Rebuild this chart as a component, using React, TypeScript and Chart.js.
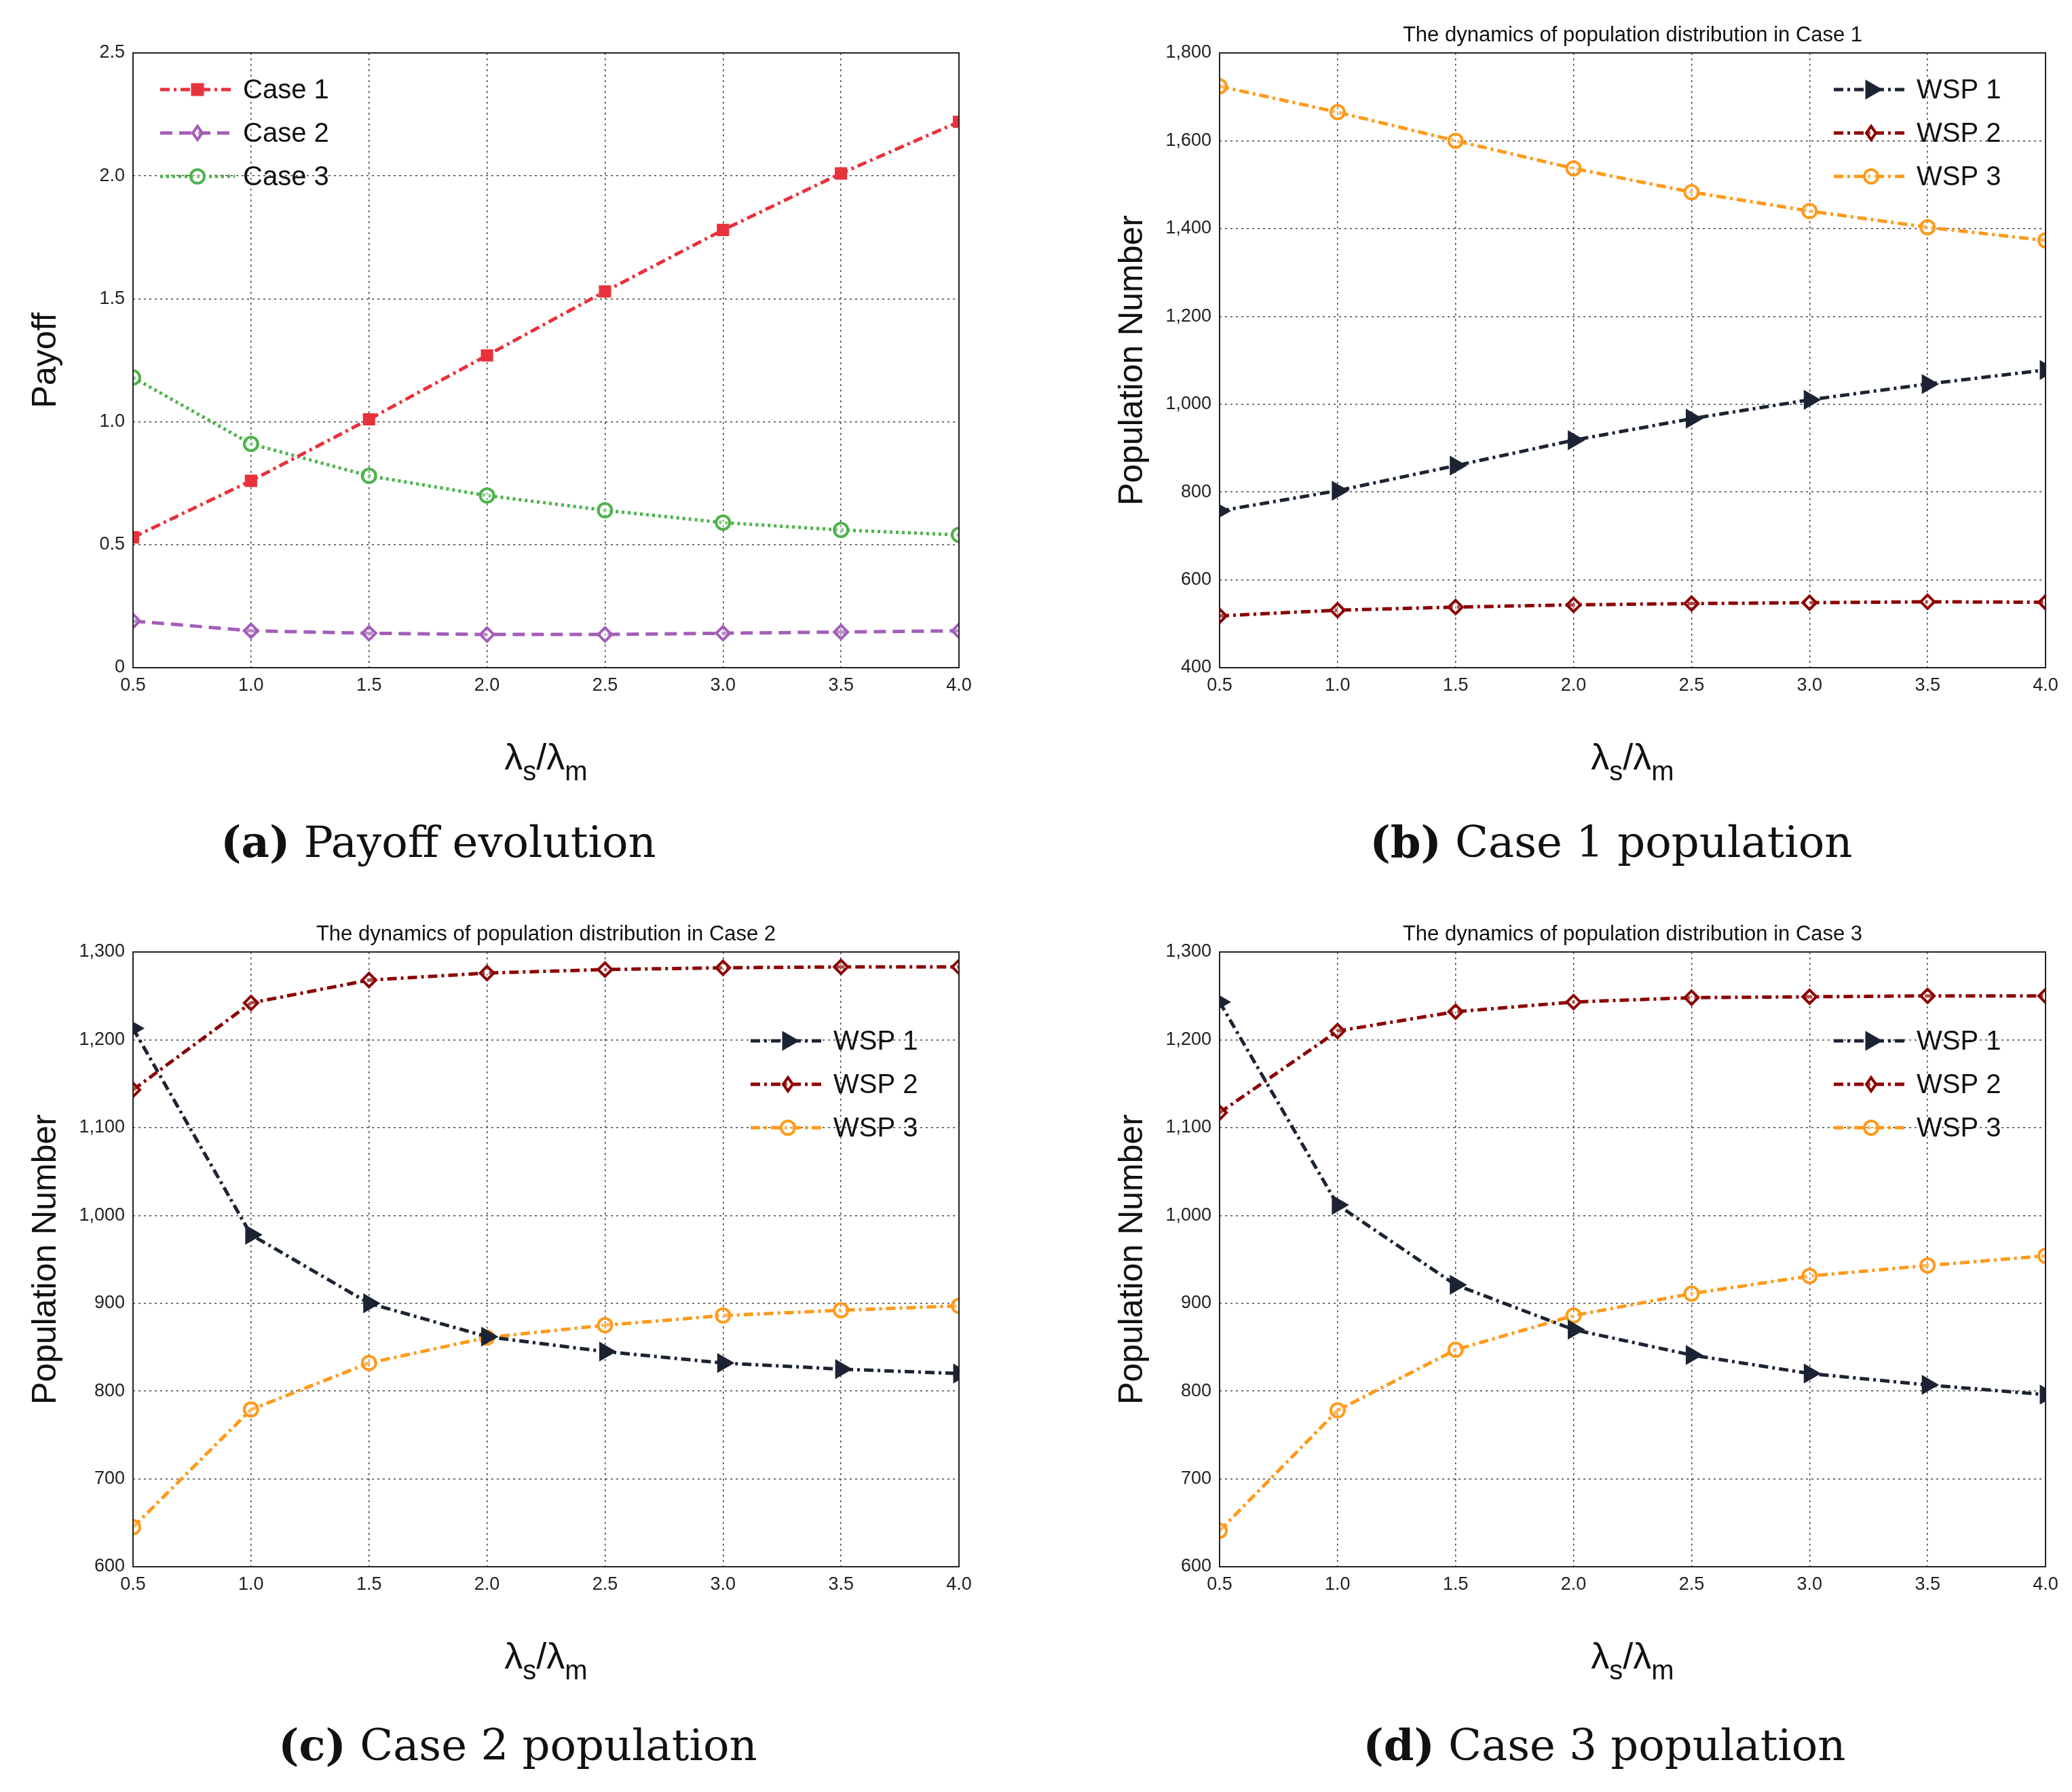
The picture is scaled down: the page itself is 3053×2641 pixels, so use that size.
import React, { useEffect, useRef } from "react";
import { Chart, registerables } from "chart.js";
Chart.register(...registerables);

const xVals = [0.5, 1, 1.5, 2, 2.5, 3, 3.5, 4];
const aCase1 = [0.53, 0.76, 1.01, 1.27, 1.53, 1.78, 2.01, 2.22];
const aCase2 = [0.19, 0.15, 0.14, 0.135, 0.135, 0.14, 0.145, 0.15];
const aCase3 = [1.18, 0.91, 0.78, 0.7, 0.64, 0.59, 0.56, 0.54];
const bWsp1 = [757, 803, 860, 918, 967, 1010, 1046, 1078];
const bWsp2 = [518, 531, 538, 543, 546, 548, 550, 549];
const bWsp3 = [1724, 1665, 1600, 1537, 1483, 1440, 1403, 1373];
const cWsp1 = [1213, 978, 900, 862, 845, 832, 825, 820];
const cWsp2 = [1143, 1242, 1268, 1276, 1280, 1282, 1283, 1283];
const cWsp3 = [645, 779, 832, 861, 875, 886, 892, 897];
const dWsp1 = [1243, 1012, 921, 870, 841, 820, 807, 796];
const dWsp2 = [1117, 1210, 1232, 1243, 1248, 1249, 1250, 1250];
const dWsp3 = [641, 778, 847, 886, 911, 931, 943, 954];

const FONT = "'Liberation Sans', Arial, sans-serif";
const PLOT_W = 1217, PLOT_H = 906, AX_W = 196, PAD_R = 40, PAD_T = 78, AX_H = 216;

function ds(label: string, ys: number[], color: string, style: any, dash: number[], rot = 0) {
  return {
    label, data: xVals.map((x, i) => ({ x, y: ys[i] })), borderColor: color, backgroundColor: color,
    borderWidth: 5, borderDash: dash, pointStyle: style, pointRotation: rot, pointRadius: style === "triangle" ? 13 : 10,
    pointBorderWidth: 4, pointBorderColor: color, pointBackgroundColor: style === "triangle" || style === "rect" ? color : "rgba(255,255,255,0.3)",
    fill: false, tension: 0,
  };
}

function marker(ctx: CanvasRenderingContext2D, d: any, x: number, y: number) {
  const r = d.pointRadius;
  ctx.beginPath();
  if (d.pointStyle === "rect") ctx.rect(x - r * 0.75, y - r * 0.75, r * 1.5, r * 1.5);
  else if (d.pointStyle === "rectRot") { ctx.moveTo(x, y - r); ctx.lineTo(x + r * 0.7, y); ctx.lineTo(x, y + r); ctx.lineTo(x - r * 0.7, y); ctx.closePath(); }
  else if (d.pointStyle === "circle") ctx.arc(x, y, r, 0, Math.PI * 2);
  else { ctx.moveTo(x + r, y); ctx.lineTo(x - r * 0.5, y - r * 0.87); ctx.lineTo(x - r * 0.5, y + r * 0.87); ctx.closePath(); }
  ctx.fillStyle = d.pointBackgroundColor; ctx.strokeStyle = d.borderColor; ctx.lineWidth = 4; ctx.setLineDash([]);
  ctx.fill(); ctx.stroke();
}

const drawPlugin = {
  id: "deco",
  afterDraw(chart: any, _a: any, opts: any) {
    const { ctx, chartArea: ca } = chart;
    ctx.save();
    ctx.strokeStyle = "#222"; ctx.lineWidth = 2; ctx.setLineDash([]);
    ctx.strokeRect(ca.left, ca.top, ca.right - ca.left, ca.bottom - ca.top);
    if (opts.title) {
      ctx.fillStyle = "#111"; ctx.font = `31px ${FONT}`; ctx.textAlign = "center"; ctx.textBaseline = "bottom";
      ctx.fillText(opts.title, (ca.left + ca.right) / 2, ca.top - 10);
    }
    ctx.save();
    ctx.fillStyle = "#111"; ctx.font = `50px ${FONT}`; ctx.textAlign = "center"; ctx.textBaseline = "middle";
    ctx.translate(ca.left - 128, (ca.top + ca.bottom) / 2); ctx.rotate(-Math.PI / 2);
    ctx.fillText(opts.ytitle, 0, 0);
    ctx.restore();
    const cx = (ca.left + ca.right) / 2, by = ca.bottom + 150;
    const parts: [string, number, number][] = [["λ", 54, 0], ["s", 40, 16], ["/λ", 54, 0], ["m", 40, 16]];
    let total = 0;
    parts.forEach(([t, s]) => { ctx.font = `${s}px ${FONT}`; total += ctx.measureText(t).width; });
    let x = cx - total / 2; ctx.textAlign = "left"; ctx.textBaseline = "alphabetic"; ctx.fillStyle = "#111";
    parts.forEach(([t, s, dy]) => { ctx.font = `${s}px ${FONT}`; ctx.fillText(t, x, by + dy); x += ctx.measureText(t).width; });
    const L = opts.legend;
    chart.data.datasets.forEach((d: any, i: number) => {
      const y = ca.top + L.y + i * 64, x0 = ca.left + L.x;
      ctx.strokeStyle = d.borderColor; ctx.lineWidth = 5; ctx.setLineDash(d.borderDash);
      ctx.beginPath(); ctx.moveTo(x0, y); ctx.lineTo(x0 + 110, y); ctx.stroke();
      marker(ctx, d, x0 + 55, y);
      ctx.fillStyle = "#111"; ctx.font = `40px ${FONT}`; ctx.textBaseline = "middle"; ctx.textAlign = "left";
      ctx.fillText(d.label, x0 + 122, y + 2);
    });
    ctx.restore();
  },
};

function Panel({ left, top, datasets, ymin, ymax, step, ytitle, title, legend }: any) {
  const ref = useRef<HTMLCanvasElement>(null);
  useEffect(() => {
    const chart = new Chart(ref.current!, {
      type: "line",
      data: { datasets },
      plugins: [drawPlugin],
      options: {
        animation: false, responsive: false, devicePixelRatio: 1,
        layout: { padding: { top: PAD_T, right: PAD_R, left: 0, bottom: 0 } },
        plugins: { legend: { display: false }, tooltip: { enabled: false }, deco: { ytitle, title, legend } } as any,
        scales: {
          x: {
            type: "linear", min: 0.5, max: 4,
            ticks: { stepSize: 0.5, color: "#222", font: { size: 27, family: FONT }, padding: 10, maxRotation: 0 },
            grid: { color: "#444", lineWidth: 1.5, drawTicks: false }, border: { display: false, dash: [3, 5] },
            afterFit: (s: any) => { s.height = AX_H; },
          },
          y: {
            min: ymin, max: ymax,
            ticks: { stepSize: step, color: "#222", font: { size: 27, family: FONT }, padding: 12 },
            grid: { color: "#444", lineWidth: 1.5, drawTicks: false }, border: { display: false, dash: [3, 5] },
            afterFit: (s: any) => { s.width = AX_W; },
          },
        },
      } as any,
    });
    return () => chart.destroy();
  }, []);
  return <canvas ref={ref} width={PLOT_W + AX_W + PAD_R} height={PAD_T + PLOT_H + AX_H}
    style={{ position: "absolute", left: left - AX_W, top: top - PAD_T, width: PLOT_W + AX_W + PAD_R, height: PAD_T + PLOT_H + AX_H }} />;
}

const capStyle = (cx: number, y: number): React.CSSProperties => ({
  position: "absolute", left: cx - 600, width: 1200, top: y - 45, textAlign: "center",
  fontFamily: "'DejaVu Serif', 'Liberation Serif', serif", fontSize: 64, color: "#111",
});

const dashDot = [14, 6, 4, 6];
const C1 = "#e8323c", C2 = "#a35db8", C3 = "#4cb34a", W1 = "#1c2333", W2 = "#8b0000", W3 = "#ff9a1a";
const wsp = (a: number[], b: number[], c: number[]) => [
  ds("WSP 1", a, W1, "triangle", dashDot, 90),
  ds("WSP 2", b, W2, "rectRot", dashDot),
  ds("WSP 3", c, W3, "circle", dashDot),
];

export default function App() {
  return (
    <div style={{ position: "absolute", left: 0, top: 0, width: 3053, height: 2641, background: "#fff" }}>
      <Panel left={196} top={78} ymin={0} ymax={2.5} step={0.5} ytitle="Payoff" legend={{ x: 40, y: 54 }}
        datasets={[ds("Case 1", aCase1, C1, "rect", dashDot), ds("Case 2", aCase2, C2, "rectRot", [18, 10]), ds("Case 3", aCase3, C3, "circle", [4, 5])]} />
      <Panel left={1797} top={78} ymin={400} ymax={1800} step={200} ytitle="Population Number" title="The dynamics of population distribution in Case 1"
        legend={{ x: 905, y: 54 }} datasets={wsp(bWsp1, bWsp2, bWsp3)} />
      <Panel left={196} top={1403} ymin={600} ymax={1300} step={100} ytitle="Population Number" title="The dynamics of population distribution in Case 2"
        legend={{ x: 910, y: 131 }} datasets={wsp(cWsp1, cWsp2, cWsp3)} />
      <Panel left={1797} top={1403} ymin={600} ymax={1300} step={100} ytitle="Population Number" title="The dynamics of population distribution in Case 3"
        legend={{ x: 905, y: 131 }} datasets={wsp(dWsp1, dWsp2, dWsp3)} />
      <div style={capStyle(646, 1248)}><b>(a)</b> Payoff evolution</div>
      <div style={capStyle(2374, 1248)}><b>(b)</b> Case 1 population</div>
      <div style={capStyle(763, 2579)}><b>(c)</b> Case 2 population</div>
      <div style={capStyle(2364, 2579)}><b>(d)</b> Case 3 population</div>
    </div>
  );
}
